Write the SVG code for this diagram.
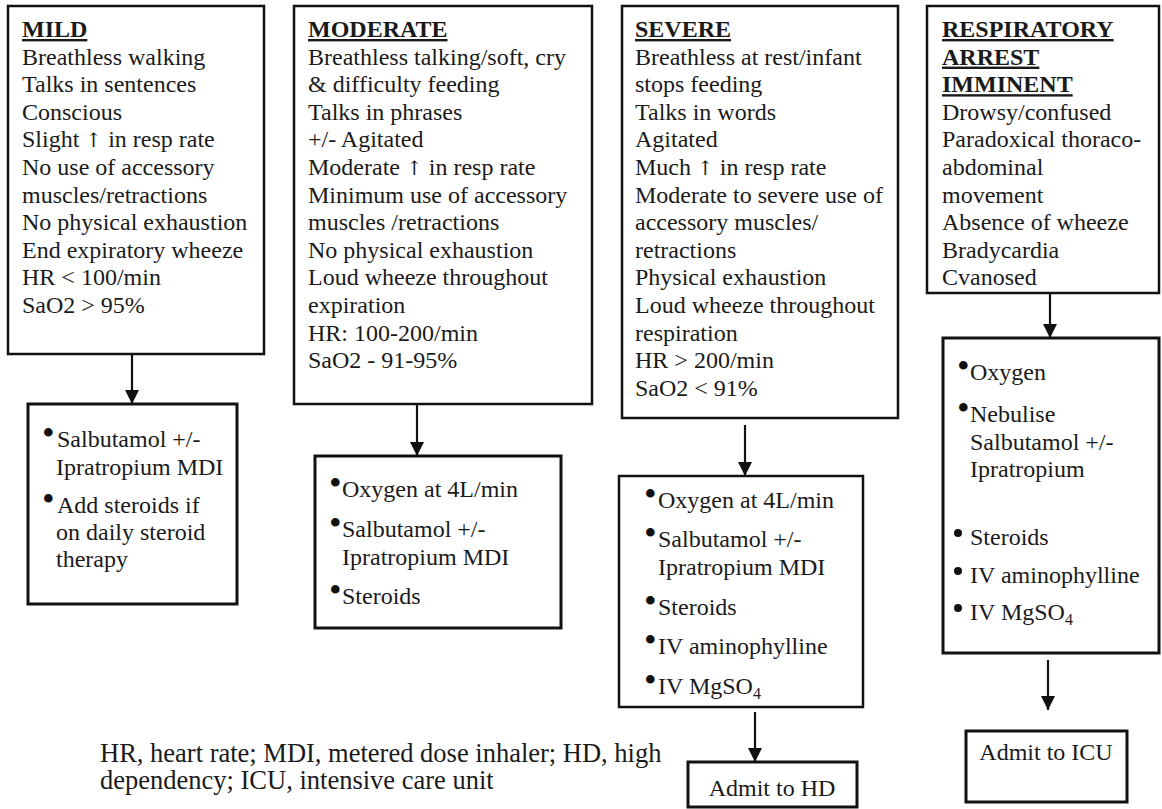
<svg xmlns="http://www.w3.org/2000/svg" width="1162" height="809" viewBox="0 0 1162 809">
<style>
.bx{fill:#fff;stroke:#111;stroke-width:2.5}
.tb{fill:#fff;stroke:#111;stroke-width:3}
.t{font-family:"Liberation Serif","Times New Roman",serif;font-size:24px;fill:#1a1a1a}
.h{font-weight:bold;text-decoration:underline}
.ar{font-family:"DejaVu Serif","DejaVu Sans",serif;font-size:20px}
.b{font-family:"Liberation Serif","Times New Roman",serif;font-size:36px;fill:#111}
.dot{fill:#111}
.c{stroke:#111;stroke-width:2.2;fill:none;marker-end:url(#ah)}
.sub{font-size:16px}
</style>
<defs>
<marker id="ah" markerUnits="userSpaceOnUse" markerWidth="14" markerHeight="15" refX="14" refY="7" orient="auto">
<path d="M0,0 L14,7 L0,14 z" fill="#111"/>
</marker>
</defs>
<rect width="1162" height="809" fill="#fff"/>

<g id="connectors">
<line class="c" x1="132" y1="355" x2="132" y2="404"/>
<line class="c" x1="417" y1="405" x2="417" y2="456"/>
<line class="c" x1="745" y1="425" x2="745" y2="476"/>
<line class="c" x1="1050" y1="294" x2="1050" y2="338"/>
<line class="c" x1="755" y1="712" x2="755" y2="762"/>
<line class="c" x1="1048" y1="660" x2="1048" y2="710"/>
</g>

<g id="mild">
<rect class="bx" x="8" y="6" width="256" height="348"/>
<text class="t" x="22" y="37"><tspan class="h">MILD</tspan>
<tspan x="22" y="64.6">Breathless walking</tspan>
<tspan x="22" y="92.2">Talks in sentences</tspan>
<tspan x="22" y="119.8">Conscious</tspan>
<tspan x="22" y="147.4">Slight <tspan class="ar">↑</tspan> in resp rate</tspan>
<tspan x="22" y="175">No use of accessory</tspan>
<tspan x="22" y="202.6">muscles/retractions</tspan>
<tspan x="22" y="230.2">No physical exhaustion</tspan>
<tspan x="22" y="257.8">End expiratory wheeze</tspan>
<tspan x="22" y="285.4">HR &lt; 100/min</tspan>
<tspan x="22" y="313">SaO2 &gt; 95%</tspan></text>
</g>

<g id="moderate">
<rect class="bx" x="294" y="6" width="298" height="398"/>
<text class="t" x="308" y="37"><tspan class="h">MODERATE</tspan>
<tspan x="308" y="64.6">Breathless talking/soft, cry</tspan>
<tspan x="308" y="92.2">&amp; difficulty feeding</tspan>
<tspan x="308" y="119.8">Talks in phrases</tspan>
<tspan x="308" y="147.4">+/- Agitated</tspan>
<tspan x="308" y="175">Moderate <tspan class="ar">↑</tspan> in resp rate</tspan>
<tspan x="308" y="202.6">Minimum use of accessory</tspan>
<tspan x="308" y="230.2">muscles /retractions</tspan>
<tspan x="308" y="257.8">No physical exhaustion</tspan>
<tspan x="308" y="285.4">Loud wheeze throughout</tspan>
<tspan x="308" y="313">expiration</tspan>
<tspan x="308" y="340.6">HR: 100-200/min</tspan>
<tspan x="308" y="368.2">SaO2 - 91-95%</tspan></text>
</g>

<g id="severe">
<rect class="bx" x="622" y="6" width="276" height="412"/>
<text class="t" x="635" y="37"><tspan class="h">SEVERE</tspan>
<tspan x="635" y="64.6">Breathless at rest/infant</tspan>
<tspan x="635" y="92.2">stops feeding</tspan>
<tspan x="635" y="119.8">Talks in words</tspan>
<tspan x="635" y="147.4">Agitated</tspan>
<tspan x="635" y="175">Much <tspan class="ar">↑</tspan> in resp rate</tspan>
<tspan x="635" y="202.6">Moderate to severe use of</tspan>
<tspan x="635" y="230.2">accessory muscles/</tspan>
<tspan x="635" y="257.8">retractions</tspan>
<tspan x="635" y="285.4">Physical exhaustion</tspan>
<tspan x="635" y="313">Loud wheeze throughout</tspan>
<tspan x="635" y="340.6">respiration</tspan>
<tspan x="635" y="368.2">HR &gt; 200/min</tspan>
<tspan x="635" y="395.8">SaO2 &lt; 91%</tspan></text>
</g>

<g id="arrest">
<rect class="bx" x="927" y="6" width="232" height="287"/>
<text class="t" x="942" y="37"><tspan class="h">RESPIRATORY</tspan>
<tspan x="942" y="64.6" class="h">ARREST</tspan>
<tspan x="942" y="92.2" class="h">IMMINENT</tspan>
<tspan x="942" y="119.8">Drowsy/confused</tspan>
<tspan x="942" y="147.4">Paradoxical thoraco-</tspan>
<tspan x="942" y="175">abdominal</tspan>
<tspan x="942" y="202.6">movement</tspan>
<tspan x="942" y="230.2">Absence of wheeze</tspan>
<tspan x="942" y="257.8">Bradycardia</tspan>
<tspan x="942" y="285.4">Cvanosed</tspan></text>
</g>

<g id="mild-treatment">
<rect class="tb" x="28" y="404" width="209" height="200"/>
<text class="b" x="42" y="444.5">•</text>
<text class="b" x="42" y="510.5">•</text>
<text class="t" x="57" y="447">Salbutamol +/-
<tspan x="56" y="475">Ipratropium MDI</tspan>
<tspan x="57" y="513">Add steroids if</tspan>
<tspan x="56" y="540">on daily steroid</tspan>
<tspan x="56" y="567">therapy</tspan></text>
</g>

<g id="moderate-treatment">
<rect class="tb" x="315" y="456" width="246" height="172"/>
<text class="b" x="329" y="494.5">•</text>
<text class="b" x="329" y="534.5">•</text>
<text class="b" x="329" y="601.5">•</text>
<text class="t" x="342" y="497">Oxygen at 4L/min
<tspan x="342" y="537">Salbutamol +/-</tspan>
<tspan x="342" y="565">Ipratropium MDI</tspan>
<tspan x="342" y="604">Steroids</tspan></text>
</g>

<g id="severe-treatment">
<rect class="bx" x="619" y="476" width="244" height="231"/>
<text class="b" x="644" y="505.5">•</text>
<text class="b" x="644" y="544.5">•</text>
<text class="b" x="644" y="612.5">•</text>
<text class="b" x="644" y="651.5">•</text>
<text class="b" x="644" y="691.5">•</text>
<text class="t" x="658" y="508">Oxygen at 4L/min
<tspan x="658" y="547">Salbutamol +/-</tspan>
<tspan x="658" y="575">Ipratropium MDI</tspan>
<tspan x="658" y="615">Steroids</tspan>
<tspan x="658" y="654">IV aminophylline</tspan>
<tspan x="658" y="694">IV MgSO<tspan class="sub" dy="5">4</tspan></tspan></text>
</g>

<g id="arrest-treatment">
<rect class="tb" x="943" y="338" width="216" height="315"/>
<text class="b" x="957" y="377.5">•</text>
<text class="b" x="957" y="419.5">•</text>
<circle class="dot" cx="958" cy="533" r="4"/>
<circle class="dot" cx="958" cy="571" r="4"/>
<circle class="dot" cx="958" cy="608" r="4"/>
<text class="t" x="970" y="380">Oxygen
<tspan x="970" y="422">Nebulise</tspan>
<tspan x="970" y="450">Salbutamol +/-</tspan>
<tspan x="970" y="477">Ipratropium</tspan>
<tspan x="970" y="545">Steroids</tspan>
<tspan x="970" y="583">IV aminophylline</tspan>
<tspan x="970" y="620">IV MgSO<tspan class="sub" dy="5">4</tspan></tspan></text>
</g>

<g id="admit-hd">
<rect class="tb" x="688" y="762" width="169" height="45"/>
<text class="t" x="772" y="796" text-anchor="middle">Admit to HD</text>
</g>

<g id="admit-icu">
<rect class="tb" x="966" y="731" width="161" height="71"/>
<text class="t" x="1046" y="760" text-anchor="middle">Admit to ICU</text>
</g>

<g id="footnote">
<text class="t" x="100" y="762" style="font-size:26.5px">HR, heart rate; MDI, metered dose inhaler; HD, high
<tspan x="100" y="789">dependency; ICU, intensive care unit</tspan></text>
</g>
</svg>
